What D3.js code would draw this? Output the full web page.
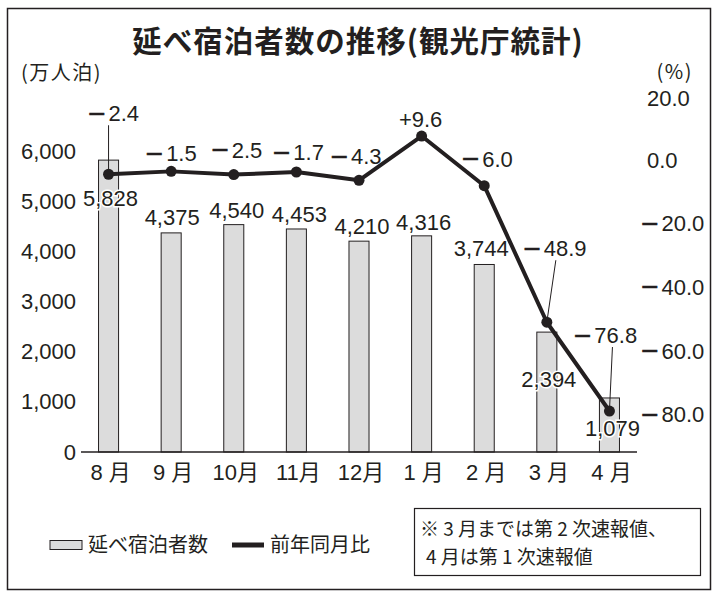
<!DOCTYPE html>
<html>
<head>
<meta charset="utf-8">
<script src="https://cdn.jsdelivr.net/npm/d3@7"></script>
<style>
  body { margin: 0; background: #fff; }
  svg { display: block; }
  text { fill: #231f20; font-family: "Liberation Sans", "Noto Sans CJK JP", sans-serif; }
  .jp { font-family: "Noto Sans CJK JP", sans-serif; }
</style>
</head>
<body>
<svg id="chart"></svg>
<script>

// DATA
const months = ["8 月", "9 月", "10月", "11月", "12月", "1 月", "2 月", "3 月", "4 月"];
const guests = [5828, 4375, 4540, 4453, 4210, 4316, 3744, 2394, 1079];   // 万人泊
const yoy = [-2.4, -1.5, -2.5, -1.7, -4.3, 9.6, -6.0, -48.9, -76.8];     // %
const leftTicks = [0, 1000, 2000, 3000, 4000, 5000, 6000];
const rightTicks = [20, 0, -20, -40, -60, -80];

// label nudges (px), one per month
const guestLabelDx = [2, 1, 3, 3, 3, 2, -3, 2, 3];
const guestLabelDy = [38, -16, -14, -15, -15, -14, -16, 47, 30];
const yoyLabelDx = [5, 0, 3, 2, -3, -1, 3, 8, -4];
const yoyLabelDy = [-61, -18, -25, -20, -24, -17, -27, -74, -76];
const leaders = [{i: 0, dx: 0}, {i: 7, dx: 9}, {i: 8, dx: 3}];

const width = 724, height = 599;

// newspaper style sign: long minus drawn a size up, then the digits
function writeSigned(text, v, plus) {
  text.text(null);
  if (v < 0) {
    text.append("tspan")
      .attr("font-size", 30)
      .attr("stroke", "#231f20")
      .attr("stroke-width", 0.5)
      .attr("dy", 2.5)
      .text("−");
    text.append("tspan")
      .attr("dx", 3)
      .attr("dy", -2.5)
      .text(Math.abs(v).toFixed(1));
  } else {
    text.text((v > 0 && plus ? "+" : "") + v.toFixed(1));
  }
}

const svg = d3.select("#chart")
  .attr("width", width)
  .attr("height", height);

// frame
svg.append("rect")
  .attr("x", 7.5).attr("y", 8.5)
  .attr("width", 703).attr("height", 581)
  .attr("fill", "none")
  .attr("stroke", "#231f20")
  .attr("stroke-width", 1.5);

// title + units
svg.append("text")
  .attr("class", "jp")
  .attr("x", 358).attr("y", 42)
  .attr("dy", "0.35em")
  .attr("text-anchor", "middle")
  .attr("font-size", 29.5)
  .attr("letter-spacing", 1)
  .attr("font-weight", "bold")
  .text("延べ宿泊者数の推移(観光庁統計)");

svg.append("text")
  .attr("class", "jp")
  .attr("x", 21).attr("y", 73)
  .attr("dy", "0.35em")
  .attr("font-size", 20)
  .attr("letter-spacing", 1.5)
  .text("(万人泊)");

svg.append("text")
  .attr("class", "jp")
  .attr("x", 693).attr("y", 72)
  .attr("dy", "0.35em")
  .attr("text-anchor", "end")
  .attr("font-size", 20)
  .attr("letter-spacing", 1.5)
  .text("(%)");

// + SCALES
const x = d3.scaleBand()
  .domain(months)
  .range([81, 637])
  .paddingInner(0.68)
  .paddingOuter(0.28);

const yL = d3.scaleLinear()
  .domain([0, 6000])
  .range([452, 151.5]);

const yR = d3.scaleLinear()
  .domain([0, -80])
  .range([166.6, 421.2]);

const cx = i => x(months[i]) + x.bandwidth() / 2;

// + AXES
const leftAxis = svg.append("g")
  .attr("transform", `translate(${79}, 0)`)
  .call(d3.axisLeft(yL).tickValues(leftTicks).tickSize(0).tickPadding(3).tickFormat(d3.format(",")));

const rightAxis = svg.append("g")
  .attr("transform", `translate(${641}, 0)`)
  .call(d3.axisRight(yR).tickValues(rightTicks).tickSize(0).tickPadding(3));

const bottomAxis = svg.append("g")
  .attr("transform", `translate(0, ${452})`)
  .call(d3.axisBottom(x).tickSize(0).tickPadding(12));

[leftAxis, rightAxis, bottomAxis].forEach(g => {
  g.select(".domain").remove();
  g.selectAll("text")
    .attr("fill", "#231f20")
    .attr("font-size", 22)
    .attr("font-family", "\"Liberation Sans\", \"Noto Sans CJK JP\", sans-serif");
});
// right-axis labels sit a little above their ticks in the original
rightAxis.selectAll(".tick text")
  .attr("dy", null)
  .attr("y", d => d > 0 ? 3 : 0.5)
  .attr("x", d => d < 0 ? 0 : 6)
  .each(function(d) { writeSigned(d3.select(this), d, false); });
bottomAxis.selectAll("text").attr("dx", 2);

// + BARS
svg.selectAll(".bar")
  .data(guests)
  .join("rect")
  .attr("class", "bar")
  .attr("x", (d, i) => x(months[i]))
  .attr("y", d => yL(d))
  .attr("width", x.bandwidth())
  .attr("height", d => yL(0) - yL(d))
  .attr("fill", "#dcdcdc")
  .attr("stroke", "#231f20")
  .attr("stroke-width", 1);

// baseline
svg.append("line")
  .attr("x1", x.range()[0]).attr("x2", x.range()[1])
  .attr("y1", yL(0)).attr("y2", yL(0))
  .attr("stroke", "#231f20")
  .attr("stroke-width", 1.5);

// bar labels (white halo where they sit on a bar)
svg.selectAll(".glabel")
  .data(guests)
  .join("text")
  .attr("class", "glabel")
  .attr("x", (d, i) => cx(i) + guestLabelDx[i])
  .attr("y", (d, i) => yL(d) + guestLabelDy[i])
  .attr("dy", "0.35em")
  .attr("text-anchor", "middle")
  .attr("font-size", 22)
  .attr("stroke", "#fff")
  .attr("stroke-width", 3)
  .attr("paint-order", "stroke")
  .text(d => d3.format(",")(d));

// leader lines
svg.selectAll(".leader")
  .data(leaders)
  .join("line")
  .attr("class", "leader")
  .attr("x1", d => cx(d.i) + d.dx)
  .attr("y1", d => yR(yoy[d.i]) + yoyLabelDy[d.i] + 12)
  .attr("x2", d => cx(d.i))
  .attr("y2", d => yR(yoy[d.i]))
  .attr("stroke", "#231f20")
  .attr("stroke-width", 1);

// + LINE
const lineGen = d3.line()
  .x((d, i) => cx(i))
  .y(d => yR(d));

svg.append("path")
  .datum(yoy)
  .attr("fill", "none")
  .attr("stroke", "#231f20")
  .attr("stroke-width", 4)
  .attr("stroke-linejoin", "round")
  .attr("d", lineGen);

svg.selectAll(".dot")
  .data(yoy)
  .join("circle")
  .attr("class", "dot")
  .attr("cx", (d, i) => cx(i))
  .attr("cy", d => yR(d))
  .attr("r", 5.5)
  .attr("fill", "#231f20");

svg.selectAll(".ylabel")
  .data(yoy)
  .join("text")
  .attr("class", "ylabel")
  .attr("x", (d, i) => cx(i) + yoyLabelDx[i])
  .attr("y", (d, i) => yR(d) + yoyLabelDy[i] + 8)
  .attr("text-anchor", "middle")
  .attr("font-size", 22)
  .each(function(d) { writeSigned(d3.select(this), d, true); });

// + LEGEND
const legend = svg.append("g").attr("transform", `translate(0, ${545})`);

legend.append("rect")
  .attr("x", 50).attr("y", -4.5)
  .attr("width", 32).attr("height", 9)
  .attr("fill", "#dcdcdc")
  .attr("stroke", "#231f20")
  .attr("stroke-width", 1);

legend.append("text")
  .attr("class", "jp")
  .attr("x", 88).attr("dy", "0.35em")
  .attr("font-size", 20)
  .text("延べ宿泊者数");

legend.append("line")
  .attr("x1", 232).attr("x2", 264)
  .attr("stroke", "#231f20")
  .attr("stroke-width", 5);

legend.append("text")
  .attr("class", "jp")
  .attr("x", 270).attr("dy", "0.35em")
  .attr("font-size", 20)
  .text("前年同月比");

// note box
svg.append("rect")
  .attr("x", 414.5).attr("y", 508.5)
  .attr("width", 286).attr("height", 67)
  .attr("fill", "none")
  .attr("stroke", "#231f20")
  .attr("stroke-width", 1.2);

svg.selectAll(".note")
  .data(["※ 3 月までは第 2 次速報値、", "4 月は第 1 次速報値"])
  .join("text")
  .attr("class", "note jp")
  .attr("x", (d, i) => i === 0 ? 420 : 426)
  .attr("y", (d, i) => 529 + i * 28)
  .attr("dy", "0.35em")
  .attr("font-size", 19)
  .text(d => d);

</script>
</body>
</html>
